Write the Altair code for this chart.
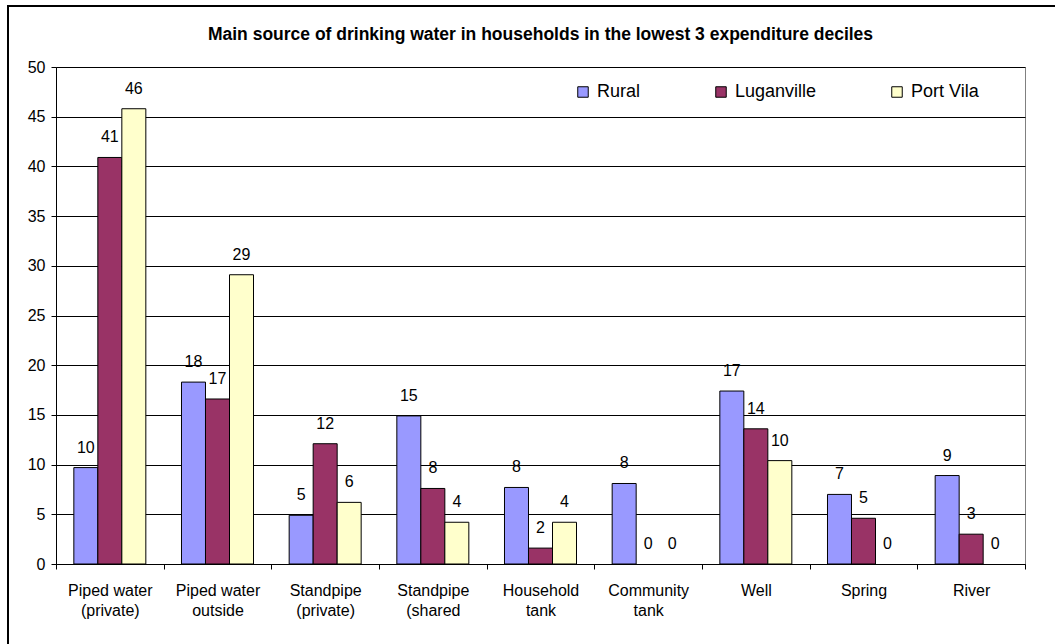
import altair as alt
import pandas as pd

# Water source categories (line breaks split the axis labels)
categories = [
    "Piped water\n(private)",
    "Piped water\noutside",
    "Standpipe\n(private)",
    "Standpipe\n(shared",
    "Household\ntank",
    "Community\ntank",
    "Well",
    "Spring",
    "River",
]
series = ["Rural", "Luganville", "Port Vila"]

# Percent of households, per area
rural = [9.7, 18.3, 4.9, 14.9, 7.7, 8.1, 17.4, 7.0, 8.9]
luganville = [40.9, 16.6, 12.1, 7.6, 1.6, 0.0, 13.6, 4.6, 3.0]
port_vila = [45.8, 29.1, 6.2, 4.2, 4.2, 0.0, 10.4, 0.0, 0.0]

colors = ["#9999FF", "#993366", "#FFFFCC"]
y_ticks = list(range(0, 51, 5))
title_text = "Main source of drinking water in households in the lowest 3 expenditure deciles"

rows = []
for name, vals in zip(series, [rural, luganville, port_vila]):
    for cat, v in zip(categories, vals):
        rows.append({"source": cat, "area": name, "value": v})
df = pd.DataFrame(rows)

FONT = "Liberation Sans"
PLOT_W, PLOT_H = 969, 497

x_enc = alt.X(
    "source:N",
    sort=categories,
    scale=alt.Scale(paddingInner=0, paddingOuter=0),
    axis=alt.Axis(
        title=None,
        labelAngle=0,
        labelExpr="split(datum.label, '\\n')",
        tickBand="extent",
        tickSize=5,
        tickColor="black",
        domainColor="black",
        labelColor="black",
        labelFont=FONT,
        labelFontSize=16,
        labelPadding=13,
        labelLineHeight=20,
        labelBaseline="top",
        grid=False,
    ),
)
xo_enc = alt.XOffset(
    "area:N", sort=series, scale=alt.Scale(paddingInner=0, paddingOuter=0.743)
)
y_enc = alt.Y(
    "value:Q",
    scale=alt.Scale(domain=[0, 50], nice=False),
    axis=alt.Axis(
        title=None,
        values=y_ticks,
        grid=True,
        gridColor="black",
        gridWidth=1,
        domainColor="black",
        tickColor="black",
        tickSize=5,
        labelColor="black",
        labelFont=FONT,
        labelFontSize=16,
        labelPadding=6,
    ),
)

bars = alt.Chart(df).mark_bar(stroke="black", strokeWidth=1).encode(
    x=x_enc,
    xOffset=xo_enc,
    y=y_enc,
    # zero-height bars get no outline
    strokeOpacity=alt.condition(alt.datum.value > 0, alt.value(1), alt.value(0)),
    color=alt.Color(
        "area:N",
        sort=series,
        scale=alt.Scale(domain=series, range=colors),
        legend=alt.Legend(
            title=None,
            orient="none",
            legendX=518,
            legendY=16,
            direction="horizontal",
            symbolType="square",
            symbolSize=110,
            symbolStrokeColor="black",
            symbolStrokeWidth=1,
            symbolOpacity=1,
            labelFont=FONT,
            labelFontSize=18,
            labelColor="black",
            labelOffset=5,
            columnPadding=71,
            gridAlign="none",
        ),
    ),
)

labels = alt.Chart(df).mark_text(
    dy=-20, baseline="middle", font=FONT, fontSize=16, color="black"
).encode(
    x=alt.X("source:N", sort=categories),
    xOffset=alt.XOffset("area:N", sort=series),
    y="value:Q",
    text=alt.Text("value:Q", format=".0f"),
)

single = pd.DataFrame({"title": [title_text]})

# Chart title, centred over the plot area
title = alt.Chart(single).mark_text(
    font=FONT, fontSize=17.5, fontWeight="bold", color="black",
    align="center", baseline="middle",
).encode(
    x=alt.value(PLOT_W / 2), y=alt.value(-32), text="title:N"
)

# Frame lines around the whole figure (top and left edges)
frame_top = alt.Chart(single).mark_rule(color="black", strokeWidth=2).encode(
    x=alt.value(-48), x2=alt.value(1010), y=alt.value(-61)
)
frame_left = alt.Chart(single).mark_rule(color="black", strokeWidth=2).encode(
    x=alt.value(-48), y=alt.value(-62), y2=alt.value(600)
)

chart = (
    alt.layer(bars, labels, title, frame_top, frame_left)
    .properties(
        width=PLOT_W,
        height=PLOT_H,
        padding={"left": 56, "top": 67, "right": 30, "bottom": 80},
        autosize=alt.AutoSizeParams(type="none"),
        background="white",
    )
    .configure_view(stroke="#808080", strokeWidth=1)
)

chart.save("out.html", embed_options={"renderer": "svg", "actions": False})
